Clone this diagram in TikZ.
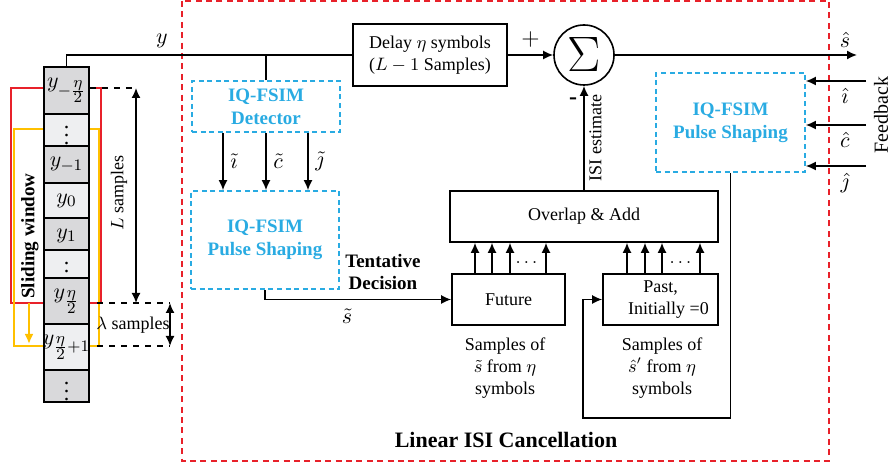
\documentclass[tikz,border=0pt]{standalone}
\usepackage{fontspec}
\setmainfont{Liberation Serif}
\usepackage{amsmath}
\usetikzlibrary{arrows.meta,calc,positioning}
\definecolor{isiblue}{RGB}{41,171,226}
\definecolor{isired}{RGB}{232,33,42}
\definecolor{isigold}{RGB}{255,192,0}
\definecolor{celldark}{RGB}{217,217,219}
\definecolor{celllight}{RGB}{238,239,241}
\tikzset{
 blk/.style={draw,line width=.8pt,inner sep=1pt,align=center},
 fsim/.style={draw=isiblue,line width=.8pt,dash pattern=on 2.5pt off 1.8pt,
  text=isiblue,font=\fontsize{9.5}{11.5}\selectfont\bfseries,align=center},
 cell/.style={draw,line width=.8pt,inner sep=0pt,minimum width=22.5pt},
 lnk/.style={line width=.8pt},
 arr/.style={line width=.8pt,-{Latex[length=5pt,width=4.5pt]}}
}
\newcommand{\halfeta}{\frac{\scriptstyle\eta}{\scriptstyle 2}}
\begin{document}
\begin{tikzpicture}[x=.5pt,y=-.5pt,font=\fontsize{9}{11}\selectfont]
\useasboundingbox (0,0) rectangle (892,469);
% outer frame
\draw[isired,line width=.9pt,dash pattern=on 3pt off 2.2pt] (182,1) rectangle (829,461);
\node[font=\fontsize{11}{13}\selectfont\bfseries] (title) at (506,440) {Linear ISI Cancellation};
% sliding window
\draw[isired,line width=1.3pt] (11,88) rectangle (101,303);
\draw[isigold,line width=1.3pt] (14,129) rectangle (99,346);
\draw[isigold,line width=1pt,-{Latex[length=5pt,width=4.5pt]}] (29,303) -- (29,344);
\node[rotate=90,font=\fontsize{9.5}{11}\selectfont\bfseries] (slide) at (30,236) {Sliding window};
% sample tape
\foreach \ya/\yb/\lab/\col [count=\i] in {
 67/114/{$y_{-\halfeta}$}/celldark,
 114/146/{$\vdots$}/celllight,
 146/183/{$y_{-1}$}/celldark,
 183/218/{$y_{0}$}/celllight,
 218/253/{$y_{1}$}/celldark,
 253/278/{$\vdots$}/celllight,
 278/324/{$y_{\halfeta}$}/celldark,
 324/370/{$y_{\halfeta+1}$}/celllight,
 370/402/{$\vdots$}/celldark}
 \node[cell,fill=\col,minimum height={(\yb-\ya)*.5pt}] (c\i) at (66.5,{(\ya+\yb)/2})
  {\fontsize{11}{12}\selectfont\makebox[0pt]{\lab}};
% L and lambda samples
\coordinate (Ltop) at (136,88);
\coordinate (Lbot) at (136,303);
\coordinate (lamtop) at (170,303);
\coordinate (lambot) at (170,346);
\draw[lnk,dashed] (c1.east |- Ltop) -- (Ltop);
\draw[lnk,dashed] (97,303) -- (lamtop);
\draw[lnk,dashed] (97,346) -- (lambot);
\draw[lnk,{Latex[length=5pt,width=4.5pt]}-{Latex[length=5pt,width=4.5pt]}] (Ltop) -- (Lbot);
\draw[lnk,{Latex[length=5pt,width=4.5pt]}-{Latex[length=5pt,width=4.5pt]}] (lamtop) -- (lambot);
\node[rotate=90] (Llab) at (119,193) {$L$ samples};
\node (lamlab) at (133,325) {$\lambda$ samples};
% blocks
\node[blk,minimum width=77pt,minimum height=31pt] (delay) at (430,55) {Delay $\eta$ symbols\\($L-1$ Samples)};
\node[circle,draw,line width=.8pt,inner sep=0pt,minimum size=30pt] (sum) at (584,55) {\fontsize{25}{26}\selectfont$\Sigma$};
\node[fsim,minimum width=74pt,minimum height=25.5pt] (det) at (266,106.5) {IQ-FSIM\\Detector};
\node[fsim,minimum width=74pt,minimum height=49pt] (lps) at (265,240) {IQ-FSIM\\Pulse Shaping};
\node[fsim,minimum width=74.5pt,minimum height=49.5pt] (rps) at (730.5,122.5) {IQ-FSIM\\Pulse Shaping};
\node[blk,minimum width=134pt,minimum height=25.5pt] (ola) at (584,216.5) {Overlap \& Add};
\node[blk,minimum width=56.5pt,minimum height=25.5pt] (future) at (508.5,299.5) {Future};
\node[blk,minimum width=57.5pt,minimum height=25.5pt] (past) at (660.5,299.5) {Past,\\\hspace*{8pt}Initially =0};
\node[align=center] (futtxt) at (505,368) {Samples of\\$\tilde{s}$ from $\eta$\\symbols};
\node[align=center] (pasttxt) at (662,368) {Samples of\\$\hat{s}'$ from $\eta$\\symbols};
% main path
\draw[lnk] (c1.north) |- (delay.west) node[pos=.667,above,font=\fontsize{11}{12}\selectfont] {$y$};
\draw[lnk] (det.north) -- (det.north |- delay.west);
\draw[arr] (delay.east) -- (sum.west) node[midway,above,font=\fontsize{13}{14}\selectfont] {$+$};
\coordinate (out) at (857,55);
\draw[arr] (sum.east) -- (out) node[pos=.95,above,font=\fontsize{11}{12}\selectfont] {$\hat{s}$};
% detector to pulse shaping
\foreach \dx/\lab in {-43/\tilde{\imath},0/\tilde{c},42/\tilde{\jmath}}
 \draw[arr] ($(det.south)+(\dx,0)$) -- ($(lps.north)+(\dx+1,0)$)
  node[midway,right,font=\fontsize{11}{12}\selectfont] {$\lab$};
% tentative decision
\draw[arr] (lps.south) |- (future.west) node[pos=.72,below=1pt,font=\fontsize{11}{12}\selectfont] {$\tilde{s}$};
\node[align=center,font=\fontsize{9.5}{11}\selectfont\bfseries] (tent) at (383,272) {Tentative\\Decision};
% samples into overlap and add
\foreach \xx in {475,492,510,546}
 \draw[arr] (future.north -| \xx,0) -- (ola.south -| \xx,0);
\foreach \xx in {627,645,662,700}
 \draw[arr] (past.north -| \xx,0) -- (ola.south -| \xx,0);
\node (dotsf) at (528,263) {$\dots$};
\node (dotsp) at (682,263) {$\dots$};
% ISI estimate
\draw[arr] (ola.north) -- (sum.south)
 node[pos=.5,right=-1pt,rotate=90,anchor=north] {ISI estimate};
\node[font=\fontsize{12}{12}\selectfont\bfseries] (minus) at (573,101) {-};
% feedback
\coordinate (fi) at (866,81);
\coordinate (fc) at (866,125);
\coordinate (fj) at (866,166);
\draw[arr] (fi) -- (rps.east |- fi) node[pos=.35,below,font=\fontsize{11}{12}\selectfont] {$\hat{\imath}$};
\draw[arr] (fc) -- (rps.east |- fc) node[pos=.35,below,font=\fontsize{11}{12}\selectfont] {$\hat{c}$};
\draw[arr] (fj) -- (rps.east |- fj) node[pos=.35,below,font=\fontsize{11}{12}\selectfont] {$\hat{\jmath}$};
\node[rotate=90,font=\fontsize{10}{12}\selectfont] (fb) at (881,115) {Feedback};
% loop back to past
\draw[arr] (rps.south) |- (583,418) |- (past.west);
\end{tikzpicture}
\end{document}
